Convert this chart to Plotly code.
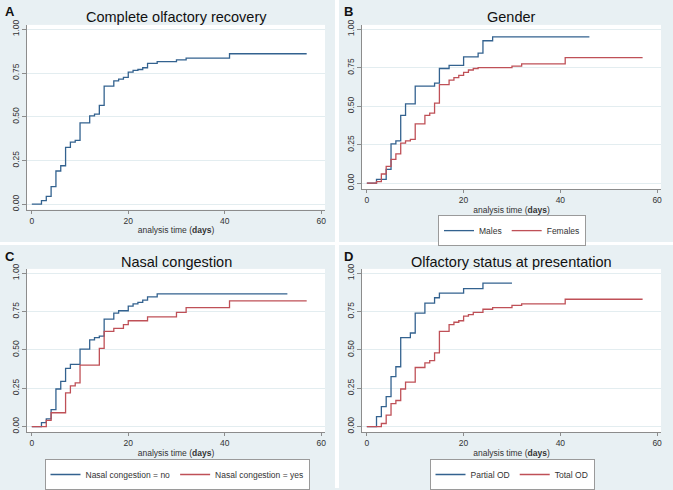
import plotly.graph_objects as go

# Kaplan-Meier failure estimates (time in days, cumulative recovery)
all_t = [0, 2, 3, 4, 5, 6, 7, 8, 9, 10, 12, 13, 14, 15, 17, 18, 19, 20, 21, 22, 23, 24, 26, 30, 32, 41, 57]
all_f = [0, 0.02, 0.045, 0.10, 0.19, 0.22, 0.325, 0.355, 0.365, 0.465, 0.505, 0.515, 0.565, 0.675,
         0.705, 0.715, 0.725, 0.755, 0.765, 0.77, 0.78, 0.805, 0.815, 0.825, 0.835, 0.86, 0.86]

males_t = [0, 2, 4, 5, 6, 7, 8, 10, 14, 15, 17, 20, 23, 24, 26, 46]
males_f = [0, 0.025, 0.09, 0.255, 0.275, 0.44, 0.515, 0.63, 0.65, 0.745, 0.765, 0.82, 0.845, 0.925, 0.95, 0.95]
females_t = [0, 2, 3, 4, 5, 6, 7, 8, 9, 10, 12, 13, 14, 15, 17, 18, 19, 20, 21, 22, 23, 30, 32, 41, 57]
females_f = [0, 0.01, 0.06, 0.11, 0.155, 0.19, 0.26, 0.275, 0.285, 0.385, 0.44, 0.455, 0.52, 0.64,
             0.67, 0.685, 0.70, 0.72, 0.735, 0.745, 0.75, 0.76, 0.775, 0.815, 0.815]

cong_no_t = [0, 2, 3, 4, 5, 6, 7, 8, 10, 12, 13, 14, 15, 17, 18, 20, 21, 22, 23, 24, 26, 53]
cong_no_f = [0, 0.025, 0.05, 0.11, 0.245, 0.295, 0.38, 0.405, 0.505, 0.565, 0.58, 0.59, 0.70, 0.74,
             0.755, 0.785, 0.80, 0.81, 0.825, 0.845, 0.865, 0.865]
cong_yes_t = [0, 3, 4, 7, 8, 9, 10, 14, 15, 17, 19, 20, 24, 30, 32, 41, 57]
cong_yes_f = [0, 0.04, 0.09, 0.22, 0.265, 0.285, 0.40, 0.51, 0.62, 0.64, 0.665, 0.69, 0.715, 0.745, 0.775, 0.82, 0.82]

partial_t = [0, 2, 3, 4, 5, 6, 7, 9, 10, 12, 14, 15, 20, 24, 30]
partial_f = [0, 0.065, 0.13, 0.195, 0.325, 0.39, 0.58, 0.61, 0.74, 0.805, 0.84, 0.87, 0.90, 0.935, 0.935]
total_t = [0, 3, 4, 5, 6, 7, 8, 10, 12, 13, 14, 15, 17, 18, 19, 20, 21, 22, 24, 26, 30, 32, 41, 57]
total_f = [0, 0.02, 0.075, 0.15, 0.17, 0.245, 0.29, 0.385, 0.415, 0.43, 0.48, 0.62, 0.665, 0.68,
           0.69, 0.72, 0.73, 0.745, 0.765, 0.775, 0.79, 0.80, 0.83, 0.83]

panel_titles = ["Complete olfactory recovery", "Gender", "Nasal congestion", "Olfactory status at presentation"]
panel_letters = ["A", "B", "C", "D"]
y_ticks = [0, 0.25, 0.5, 0.75, 1.0]
y_labels = ["0.00", "0.25", "0.50", "0.75", "1.00"]
x_ticks = [0, 20, 40, 60]

W, H = 673, 490
BLUE = "#33628f"
RED = "#bf5057"
BG = "#e8f0f3"
AXIS = "#8c8c8c"
FONT = "Liberation Sans, Arial, sans-serif"

# plot areas in pixels: (left, right, top, bottom)
areas = [(27, 325, 25, 210.5), (362, 661, 25, 190), (27, 325, 270, 434), (362, 661, 270, 434)]
y_ranges = [[-0.031, 1.025], [-0.039, 1.028], [-0.037, 1.028], [-0.037, 1.028]]

fig = go.Figure()

series = [
    (1, all_t, all_f, "Complete olfactory recovery", BLUE, None),
    (2, males_t, males_f, "Males", BLUE, "legend"),
    (2, females_t, females_f, "Females", RED, "legend"),
    (3, cong_no_t, cong_no_f, "Nasal congestion = no", BLUE, "legend2"),
    (3, cong_yes_t, cong_yes_f, "Nasal congestion = yes", RED, "legend2"),
    (4, partial_t, partial_f, "Partial OD", BLUE, "legend3"),
    (4, total_t, total_f, "Total OD", RED, "legend3"),
]
for k, t, f, name, color, leg in series:
    sfx = "" if k == 1 else str(k)
    fig.add_trace(go.Scatter(
        x=t, y=f, name=name, mode="lines", line_shape="hv",
        line=dict(color=color, width=1.3),
        xaxis="x" + sfx, yaxis="y" + sfx,
        showlegend=leg is not None, legend=leg or "legend",
    ))

layout = dict(
    width=W, height=H,
    margin=dict(l=0, r=0, t=0, b=0),
    paper_bgcolor=BG, plot_bgcolor="white",
    font=dict(family=FONT, size=9, color="#333"),
)

annotations = []
for i, (l, r, t, b) in enumerate(areas):
    sfx = "" if i == 0 else str(i + 1)
    layout["xaxis" + sfx] = dict(
        domain=[l / W, r / W], anchor="y" + sfx, range=[-1.0, 60.8],
        tickvals=x_ticks, ticks="outside", ticklen=3, tickcolor=AXIS,
        showline=True, linecolor=AXIS, linewidth=1, showgrid=False, zeroline=False,
        tickfont=dict(size=8.5, color="#333"),
        title=dict(text="analysis time (<b>days</b>)", font=dict(size=8.5, color="#333"), standoff=2),
        automargin=False,
    )
    layout["yaxis" + sfx] = dict(
        domain=[1 - b / H, 1 - t / H], anchor="x" + sfx, range=y_ranges[i],
        tickvals=y_ticks, ticktext=y_labels, tickangle=-90,
        ticks="outside", ticklen=4, tickcolor=AXIS,
        showline=True, linecolor=AXIS, linewidth=1,
        showgrid=True, gridcolor="#e3edf0", gridwidth=1, zeroline=False,
        tickfont=dict(size=8.5, color="#333"), automargin=False,
    )
    top = 0 if i < 2 else 246
    left = 0 if i % 2 == 0 else 339
    annotations.append(dict(
        text=panel_titles[i], x=(l + r) / 2 / W, y=1 - (top + 17) / H,
        xref="paper", yref="paper", xanchor="center", yanchor="middle", showarrow=False,
        font=dict(size=14.5, color="#111"),
    ))
    annotations.append(dict(
        text="<b>" + panel_letters[i] + "</b>", x=(left + 3) / W, y=1 - (top + 12) / H,
        xref="paper", yref="paper", xanchor="left", yanchor="middle", showarrow=False,
        font=dict(size=13, color="#111"),
    ))
layout["annotations"] = annotations

legend_style = dict(
    orientation="h", xanchor="center", yanchor="top", bgcolor="white",
    bordercolor="#9a9a9a", borderwidth=1, font=dict(size=8.5, color="#333"),
    itemwidth=30, tracegroupgap=0,
)
layout["legend"] = dict(x=512 / W, y=1 - 216 / H, **legend_style)
layout["legend2"] = dict(x=177 / W, y=1 - 461 / H, **legend_style)
layout["legend3"] = dict(x=512 / W, y=1 - 461 / H, **legend_style)

# white gutters between the four panels
layout["shapes"] = [
    dict(type="rect", xref="paper", yref="paper", x0=335 / W, x1=339 / W, y0=0, y1=1,
         fillcolor="white", line=dict(width=0), layer="below"),
    dict(type="rect", xref="paper", yref="paper", x0=0, x1=1, y0=1 - 246 / H, y1=1 - 243 / H,
         fillcolor="white", line=dict(width=0), layer="below"),
]

fig.update_layout(**layout)
# drop the default page margin so the figure sits flush in the window
fig.write_html("out.html", config={"displayModeBar": False},
               post_script="document.body.style.margin='0';")
